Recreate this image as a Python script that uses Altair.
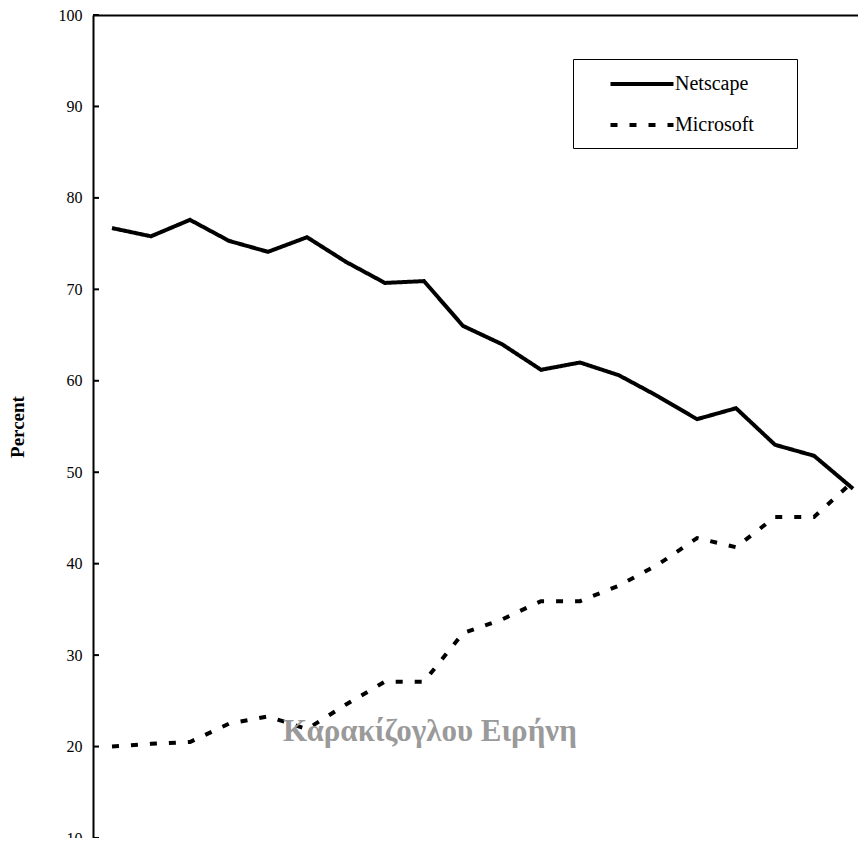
import altair as alt
import pandas as pd

periods = list(range(20))
netscape = [76.7, 75.8, 77.6, 75.3, 74.1, 75.7, 73.0, 70.7, 70.9, 66.0,
            64.0, 61.2, 62.0, 60.6, 58.3, 55.8, 57.0, 53.0, 51.8, 48.2]
microsoft = [20.0, 20.3, 20.5, 22.5, 23.3, 21.9, 24.6, 27.1, 27.1, 32.4,
             33.9, 35.9, 35.9, 37.6, 39.9, 42.8, 41.8, 45.1, 45.1, 49.0]
series_names = ["Netscape", "Microsoft"]
y_ticks = [10, 20, 30, 40, 50, 60, 70, 80, 90, 100]
watermark_text = ["Καρακίζογλου Ειρήνη"]
watermark_x = [8.15]
watermark_y = [20.6]

rows = []
for i, p in enumerate(periods):
    rows.append({"period": p, "browser": "Netscape", "percent": netscape[i]})
    rows.append({"period": p, "browser": "Microsoft", "percent": microsoft[i]})
df = pd.DataFrame(rows)
ticks_df = pd.DataFrame({"v": y_ticks})
wm_df = pd.DataFrame({"t": watermark_text, "x": watermark_x, "y": watermark_y})

FONT = "Liberation Serif"

xscale = alt.Scale(domain=[-0.487, 19.128], nice=False, zero=False)
yscale = alt.Scale(domain=[10, 100], nice=False, zero=False)

lines = alt.Chart(df).mark_line(color="black", strokeWidth=4, strokeCap="butt").encode(
    x=alt.X("period:Q", scale=xscale,
            axis=alt.Axis(orient="top", labels=False, ticks=False, title=None,
                          grid=False, domainColor="black", domainWidth=2)),
    y=alt.Y("percent:Q", scale=yscale,
            axis=alt.Axis(values=y_ticks, tickSize=0, labelPadding=11, grid=False,
                          labelFont=FONT, labelFontSize=16, labelColor="black",
                          domainColor="black", domainWidth=2,
                          title="Percent", titleFont=FONT, titleFontSize=19,
                          titleFontWeight="bold", titleColor="black", titlePadding=31)),
    strokeDash=alt.StrokeDash(
        "browser:N",
        scale=alt.Scale(domain=series_names, range=[[1, 0], [7, 12]]),
        legend=alt.Legend(orient="none", legendX=480, legendY=44, title=None,
                          strokeColor="black", fillColor="white", padding=13,
                          symbolType="M-3.15,0H3.15", symbolSize=400, symbolStrokeWidth=4,
                          symbolStrokeColor="black", symbolOffset=44, labelOffset=21,
                          labelFont=FONT, labelFontSize=20, labelColor="black",
                          labelExpr="datum.label + '\u2800\u2800'",
                          rowPadding=19),
    ),
    detail="browser:N",
)

tick_marks = alt.Chart(ticks_df).mark_rule(color="black", strokeWidth=2).encode(
    y=alt.Y("v:Q", scale=yscale),
    x=alt.value(0),
    x2=alt.value(6),
)

watermark = alt.Chart(wm_df).mark_text(
    font=FONT, fontSize=31, fontWeight="bold", color="#9a9a9a",
    align="center", baseline="alphabetic"
).encode(
    x=alt.X("x:Q", scale=xscale),
    y=alt.Y("y:Q", scale=yscale),
    text="t:N",
)

chart = alt.layer(lines, tick_marks, watermark).properties(
    width=765, height=823,
    autosize=alt.AutoSizeParams(type="none"),
    padding={"left": 85, "top": 7, "right": 0, "bottom": 0},
).configure_view(stroke=None).configure(background="white")

chart.save("out.html", embed_options={"renderer": "svg", "actions": False})
